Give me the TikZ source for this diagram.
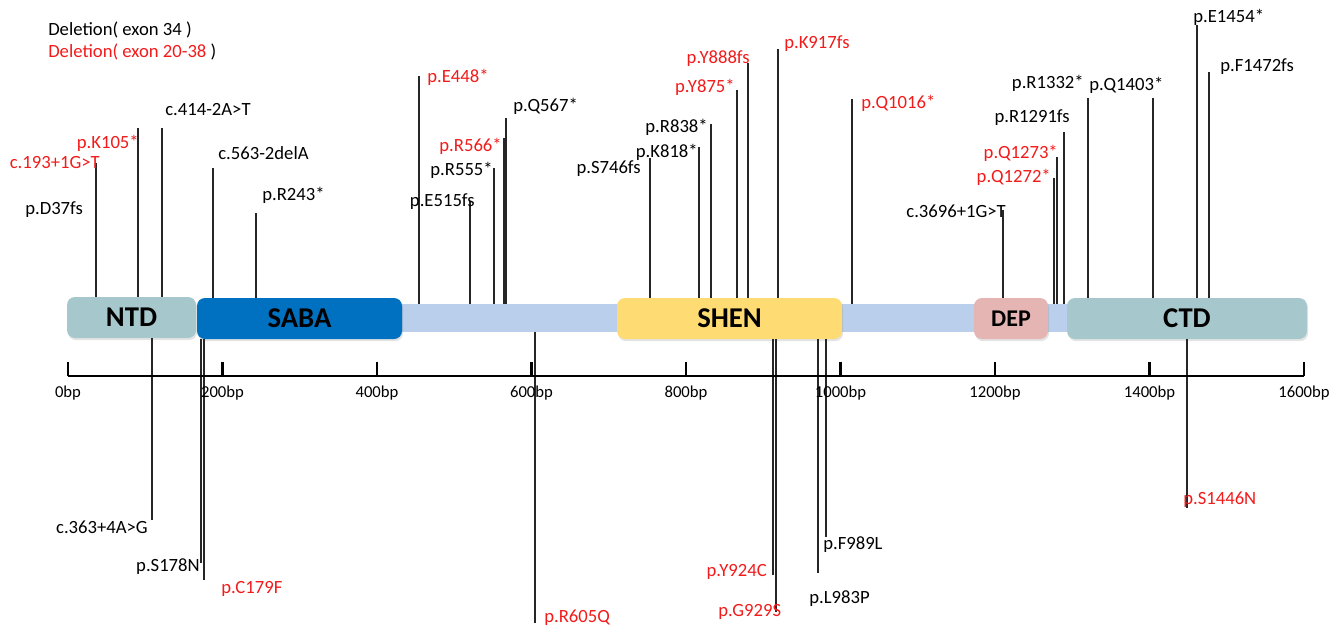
\documentclass[tikz,border=0pt]{standalone}
\usepackage{fontspec}
\setmainfont{Carlito}
\usepackage{tikz}
\usetikzlibrary{positioning,calc,shadows}

\definecolor{ntdc}{HTML}{A6C8CD}
\definecolor{sabac}{HTML}{0070C0}
\definecolor{bandc}{HTML}{BACFEB}
\definecolor{shenc}{HTML}{FFDC73}
\definecolor{depc}{HTML}{E5B5B4}
\definecolor{mutred}{HTML}{F21B1B}

\begin{document}
\begin{tikzpicture}[
  x=0.75pt, y=-0.75pt,
  dom/.style={rounded corners=6pt, minimum height=30.75pt, inner sep=0pt,
              font=\fontsize{21.5}{21.5}\selectfont\bfseries,
              drop shadow={opacity=0.22, shadow xshift=0.8pt, shadow yshift=-1.6pt}},
  stem/.style={line width=1.3pt, black!85},
  mut/.style={font=\fontsize{14}{16}\selectfont, inner sep=0pt},
  bp/.style={font=\fontsize{12.5}{13}\selectfont, inner sep=0pt}
]
  \useasboundingbox (0,0) rectangle (1344,629);

  % protein backbone and domains
  \node[fill=bandc, minimum width=502.5pt, minimum height=21pt, inner sep=0pt] (band) at (735,318) {};
  \node[dom, fill=ntdc,  minimum width=96.75pt]  (ntd)  at (131.5,317.5) {NTD};
  \node[dom, fill=sabac, minimum width=153.75pt] (saba) at (299.5,318.5) {SABA};
  \node[dom, fill=shenc, minimum width=168.75pt] (shen) at (729.5,318.5) {SHEN};
  \node[dom, fill=depc,  minimum width=55.5pt,
        font=\fontsize{18}{18}\selectfont\bfseries] (dep) at (1011,318.5) {DEP};
  \node[dom, fill=ntdc,  minimum width=180pt]    (ctd)  at (1187,318.5) {CTD};

  % deletions
  \node[mut, anchor=west] (del34) at (48,30) {Deletion( exon 34 )};
  \node[mut, anchor=west] (del20) at (48,52) {\textcolor{mutred}{Deletion( exon 20-38} )};

  % mutations above the protein
  \foreach \n/\x/\y/\e/\a/\lx/\ly/\c/\t in {
      u1/96/163/ntd/east/100/163/mutred/c.193+1G>T,
      u2/138/128/ntd/east/139/143/mutred/p.K105*,
      u3/162/128/ntd/west/165/110/black/c.414-2A>T,
      u4/213/168/saba/west/218/153/black/c.563-2delA,
      u5/256/213/saba/west/262/195/black/p.R243*,
      u6/419/76/band/west/427/77/mutred/p.E448*,
      u7/470/201/band/east/475/202/black/p.E515fs,
      u8/494/168/band/east/493/170/black/p.R555*,
      u9/504/138/band/east/502/146/mutred/p.R566*,
      u10/506/118/band/west/513/106/black/p.Q567*,
      u11/650/158/shen/east/641/169/black/p.S746fs,
      u12/699/147/shen/east/698/152/black/p.K818*,
      u13/711/124/shen/east/708/127/black/p.R838*,
      u14/737/90/shen/east/735/87/mutred/p.Y875*,
      u15/748/63/shen/east/750/59/mutred/p.Y888fs,
      u16/778/49/shen/west/784/44/mutred/p.K917fs,
      u17/852/99/band/west/861/103/mutred/p.Q1016*,
      u18/1003/210/dep/east/1006/211/black/c.3696+1G>T,
      u19/1054/178/band/east/1051/177/mutred/p.Q1272*,
      u20/1057/157/band/east/1058/153/mutred/p.Q1273*,
      u21/1064/132/band/east/1070/118/black/p.R1291fs,
      u22/1088/98/ctd/east/1084/83/black/p.R1332*,
      u23/1153/98/ctd/west/1089/85/black/p.Q1403*,
      u24/1197/25/ctd/west/1193/17/black/p.E1454*,
      u25/1209/72/ctd/west/1220/67/black/p.F1472fs}
  {
    \coordinate (\n) at (\x,\y);
    \draw[stem] (\n) -- (\n |- \e.north);
    \node[mut, anchor=\a, text=\c] (l\n) at (\lx,\ly) {\t};
  }
  \node[mut, anchor=west] (lu1b) at (25,210) {p.D37fs};

  % mutations below the protein
  \foreach \n/\x/\y/\e/\a/\lx/\ly/\c/\t in {
      d1/152/520/ntd/east/148/527/black/c.363+4A>G,
      d2/201/563/saba/east/200/567/black/p.S178N,
      d3/204/580/saba/west/221/589/mutred/p.C179F,
      d4/535/623/band/west/544/618/mutred/p.R605Q,
      d5/773/575/shen/east/767/572/mutred/p.Y924C,
      d6/776/612/shen/west/718/612/mutred/p.G929S,
      d7/818/573/shen/west/809/599/black/p.L983P,
      d8/826/537/shen/west/823/545/black/p.F989L,
      d9/1187/508/ctd/west/1183/500/mutred/p.S1446N}
  {
    \coordinate (\n) at (\x,\y);
    \draw[stem] (\n |- \e.south) -- (\n);
    \node[mut, anchor=\a, text=\c] (l\n) at (\lx,\ly) {\t};
  }

  % scale
  \coordinate (ax0) at (68,376);
  \coordinate (ax1) at (1304,376);
  \draw[line width=2.2pt] (ax0) -- (ax1);
  \foreach \i in {0,...,8}{
    \pgfmathtruncatemacro\v{\i*200}
    \draw[line width=1.8pt] (68+154.5*\i,376) -- (68+154.5*\i,362);
    \node[bp] (t\i) at (68+154.5*\i,393) {\v bp};
  }
\end{tikzpicture}
\end{document}
